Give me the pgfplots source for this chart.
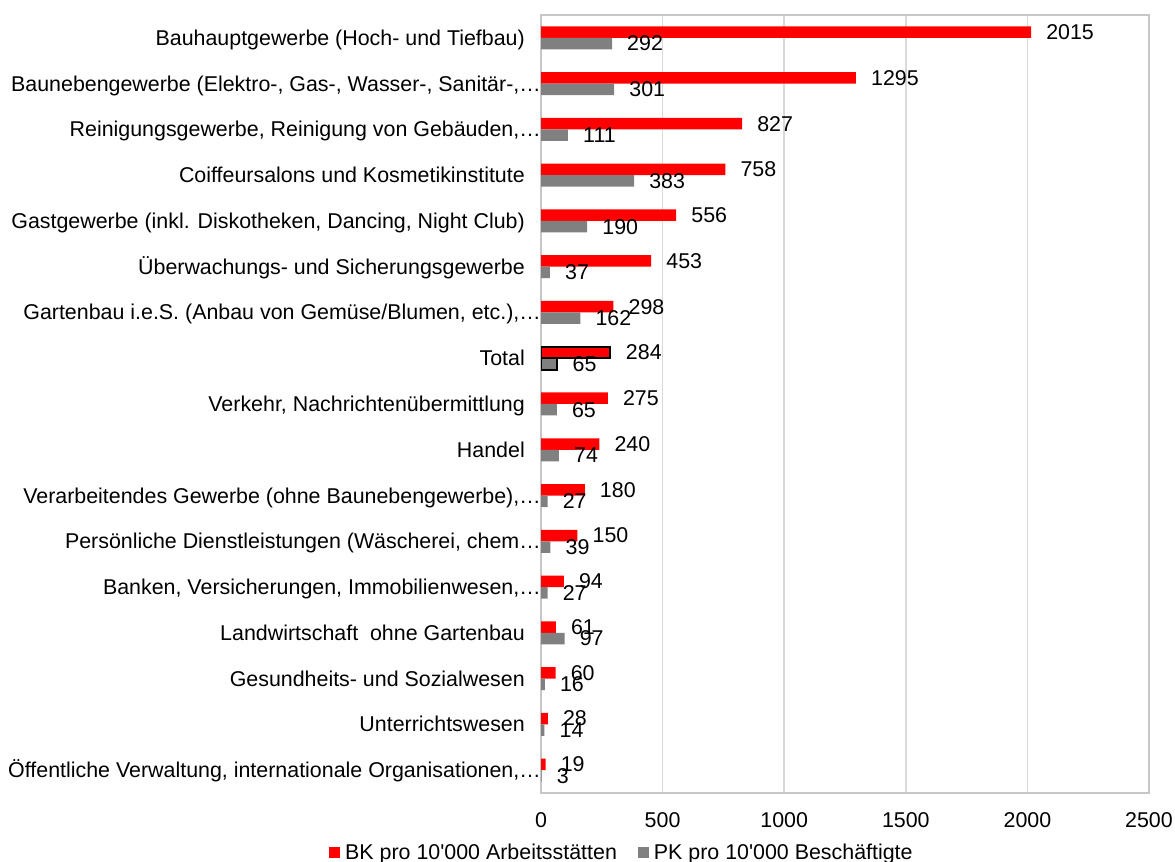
\documentclass[border=0pt]{standalone}
\usepackage{pgfplots}
\usepackage{pgfplotstable}
\pgfplotsset{compat=1.18}
\usepackage{fontspec}
\setmainfont{Liberation Sans}[Ligatures=TeXOff]
\definecolor{bkred}{HTML}{FF0000}
\definecolor{pkgray}{HTML}{808080}
\definecolor{gridgray}{HTML}{D9D9D9}
\definecolor{boxgray}{HTML}{C6C6C6}
\newcommand\trunc[1]{#1…\kern-16bp}

\pgfplotstableread{
y bk pk
16 2015 292
15 1295 301
14 827 111
13 758 383
12 556 190
11 453 37
10 298 162
8 275 65
7 240 74
6 180 27
5 150 39
4 94 27
3 61 97
2 60 16
1 28 14
0 19 3
}\maindata
\pgfplotstableread{
y bk pk
9 284 65
}\totaldata

\begin{document}
\fontsize{21.4bp}{25bp}\selectfont
\begin{tikzpicture}
\useasboundingbox (0,0) rectangle (1175bp,862bp);
\begin{axis}[
  at={(541bp,69bp)}, anchor=south west,
  scale only axis, width=608bp, height=778bp,
  xbar, bar width=11.5bp,
  xmin=0, xmax=2500, ymin=-0.5, ymax=16.5,
  xtick={0,500,1000,1500,2000,2500},
  ytick={0,...,16},
  yticklabels={
    {\trunc{Öffentliche Verwaltung, internationale Organisationen,}},
    {Unterrichtswesen},
    {Gesundheits- und Sozialwesen},
    {Landwirtschaft\ \ ohne Gartenbau},
    {\trunc{Banken, Versicherungen, Immobilienwesen,}},
    {\trunc{Persönliche Dienstleistungen (Wäscherei, chem}},
    {\trunc{Verarbeitendes Gewerbe (ohne Baunebengewerbe),}},
    {Handel},
    {Verkehr, Nachrichtenübermittlung},
    {Total},
    {\trunc{Gartenbau i.e.S. (Anbau von Gemüse/Blumen, etc.),}},
    {Überwachungs- und Sicherungsgewerbe},
    {Gastgewerbe (inkl. Diskotheken, Dancing, Night Club)},
    {Coiffeursalons und Kosmetikinstitute},
    {\trunc{Reinigungsgewerbe, Reinigung von Gebäuden,}},
    {\trunc{Baunebengewerbe (Elektro-, Gas-, Wasser-, Sanitär-,}},
    {Bauhauptgewerbe (Hoch- und Tiefbau)}
  },
  major tick length=0pt,
  /pgf/number format/1000 sep={},
  /pgf/number format/assume math mode=true,
  xticklabel style={anchor=north, inner sep=0pt, yshift=-19.5bp},
  yticklabel style={anchor=base east, inner sep=0pt, xshift=-16bp, yshift=-7.5bp},
  xmajorgrids, major grid style={draw=gridgray, line width=1.5bp},
  axis line style={draw=boxgray, line width=2bp},
  nodes near coords,
  point meta=explicit symbolic,
  every node near coord/.append style={anchor=west, inner sep=0pt, xshift=15bp, text=black},
  legend columns=2,
  legend style={at={(-0.3487,-0.0771)}, anchor=west, draw=none, fill=none,
    inner sep=0pt, nodes={inner sep=0pt, anchor=west},
    /tikz/every even column/.append style={column sep=21bp}},
]
\addplot[fill=bkred, draw=none, bar shift=5.75bp,
  legend image code/.code={\fill[bkred] (0bp,-5.5bp) rectangle (11bp,5.5bp); \path (16bp,0bp);}]
  table[x=bk, y=y, meta=bk] {\maindata};
\addlegendentry{BK pro 10'000 Arbeitsstätten}
\addplot[fill=pkgray, draw=none, bar shift=-5.75bp,
  legend image code/.code={\fill[pkgray] (0bp,-5.5bp) rectangle (11bp,5.5bp); \path (16bp,0bp);}]
  table[x=pk, y=y, meta=pk] {\maindata};
\addlegendentry{PK pro 10'000 Beschäftigte}
\addplot[fill=bkred, draw=black, line width=1.8bp, bar shift=5.75bp, forget plot]
  table[x=bk, y=y, meta=bk] {\totaldata};
\addplot[fill=pkgray, draw=black, line width=1.8bp, bar shift=-5.75bp, forget plot]
  table[x=pk, y=y, meta=pk] {\totaldata};
\end{axis}
\end{tikzpicture}
\end{document}
